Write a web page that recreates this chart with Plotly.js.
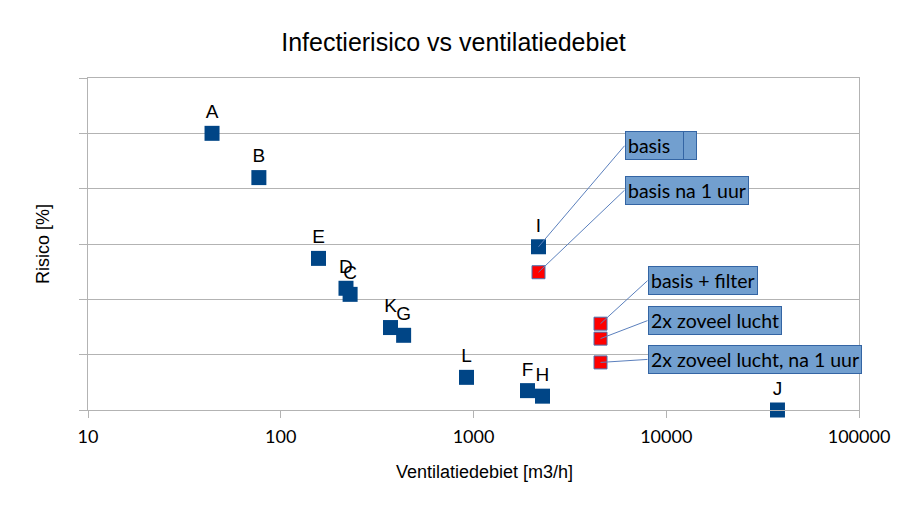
<!DOCTYPE html>
<html>
<head>
<meta charset="utf-8">
<script src="https://cdn.plot.ly/plotly-3.0.1.min.js"></script>
<style>html,body{margin:0;padding:0;background:#fff}#chart{width:907px;height:510px}</style>
</head>
<body>
<div id="chart"></div>
<script>
// Blue series: rooms/cases (label, ventilation [m3/h], risk [%])
const pointLabels = ['A','B','E','D','C','K','G','L','F','H','I','J'];
const pointVent   = [44, 77, 157, 218, 229, 371, 434, 920, 1906, 2280, 2174, 37760];
const pointRisk   = [5.0, 4.2, 2.74, 2.20, 2.09, 1.49, 1.35, 0.59, 0.35, 0.25, 2.95, 0.0];

// Red series: scenarios for room I
const scenNames = ['basis na 1 uur','basis + filter','2x zoveel lucht','2x zoveel lucht, na 1 uur'];
const scenVent  = [2174, 4560, 4560, 4560];
const scenRisk  = [2.49, 1.56, 1.29, 0.86];

// Axis ticks
const xTickVals  = [10, 100, 1000, 10000, 100000];
const xTickText  = ['10','100','1000','10000','100000'];
const yTickVals  = [0, 1, 2, 3, 4, 5, 6];

const blueTrace = {
  type: 'scatter', mode: 'markers+text',
  x: pointVent, y: pointRisk, text: pointLabels,
  textposition: 'top center',
  textfont: {family: 'Liberation Sans, Arial, sans-serif', size: 19, color: '#000'},
  marker: {symbol: 'square', size: 15, color: '#004586', line: {width: 0}},
  cliponaxis: false, showlegend: false, hoverinfo: 'x+y+text'
};
const redTrace = {
  type: 'scatter', mode: 'markers',
  x: scenVent, y: scenRisk, text: scenNames,
  marker: {symbol: 'square', size: 13, color: '#ff0000', line: {width: 1, color: '#4a72b0'}},
  cliponaxis: false, showlegend: false, hoverinfo: 'x+y+text'
};

const boxFont = {family: 'Lato, Carlito, sans-serif', size: 19.5, color: '#000'};
function callout(x, y, text, ax, ay, extra) {
  return Object.assign({
    x: Math.log10(x), y: y, xref: 'x', yref: 'y', text: text,
    showarrow: true, arrowhead: 0, arrowwidth: 1, arrowcolor: '#5b80bd',
    standoff: 0, startstandoff: 0,
    ax: ax, ay: ay, xanchor: 'left', yanchor: 'middle', align: 'left',
    bgcolor: '#729fcf', bordercolor: '#3465a4', borderwidth: 1, borderpad: 2,
    font: boxFont
  }, extra || {});
}

const iIdx = pointLabels.indexOf('I');
const annotations = [
  callout(pointVent[iIdx], pointRisk[iIdx], 'basis', 86, -101, {width: 66}),
  callout(pointVent[iIdx], pointRisk[iIdx], '\u00a0', 144, -101, {width: 8, arrowwidth: 0.01, arrowcolor: 'rgba(0,0,0,0)'}),
  callout(scenVent[0], scenRisk[0], scenNames[0], 86, -82),
  callout(scenVent[1], scenRisk[1], scenNames[1], 47, -43),
  callout(scenVent[2], scenRisk[2], scenNames[2], 47, -18),
  callout(scenVent[3], scenRisk[3], scenNames[3], 47, -3),
  {
    text: 'Ventilatiedebiet [m3/h]', xref: 'paper', yref: 'paper',
    x: (485 - 88) / 771, y: -(472 - 410) / 332, xanchor: 'center', yanchor: 'middle',
    showarrow: false, font: {family: 'Liberation Sans, Arial, sans-serif', size: 18, color: '#000'}
  }
];

const layout = {
  width: 907, height: 510,
  margin: {l: 88, r: 48, t: 78, b: 100},
  paper_bgcolor: '#fff', plot_bgcolor: '#fff',
  font: {family: 'Liberation Sans, Arial, sans-serif', color: '#000'},
  title: {text: 'Infectierisico vs ventilatiedebiet', font: {size: 25, color: '#000'},
          x: 0.5, xanchor: 'center', xref: 'container', y: 1 - 42/510, yanchor: 'middle', yref: 'container'},
  xaxis: {
    type: 'log', range: [1, 5],
    tickvals: xTickVals, ticktext: xTickText,
    tickfont: {family: 'Lato, Carlito, sans-serif', size: 18, color: '#000'},
    ticks: 'outside', ticklen: 7, tickcolor: '#b3b3b3', tickwidth: 1,
    showline: true, linecolor: '#b3b3b3', linewidth: 1, mirror: true,
    showgrid: false, zeroline: false, ticklabelstandoff: 3
  },
  yaxis: {
    range: [0, 6], tickvals: yTickVals, showticklabels: false,
    ticks: 'outside', ticklen: 8, tickcolor: '#b3b3b3', tickwidth: 1,
    showline: true, linecolor: '#b3b3b3', linewidth: 1, mirror: true,
    showgrid: true, gridcolor: '#b3b3b3', gridwidth: 1, zeroline: false,
    title: {text: 'Risico [%]', font: {size: 18, color: '#000'}, standoff: 24}
  },
  annotations: annotations
};

Plotly.newPlot('chart', [blueTrace, redTrace], layout, {displayModeBar: false, staticPlot: true});
</script>
</body>
</html>
